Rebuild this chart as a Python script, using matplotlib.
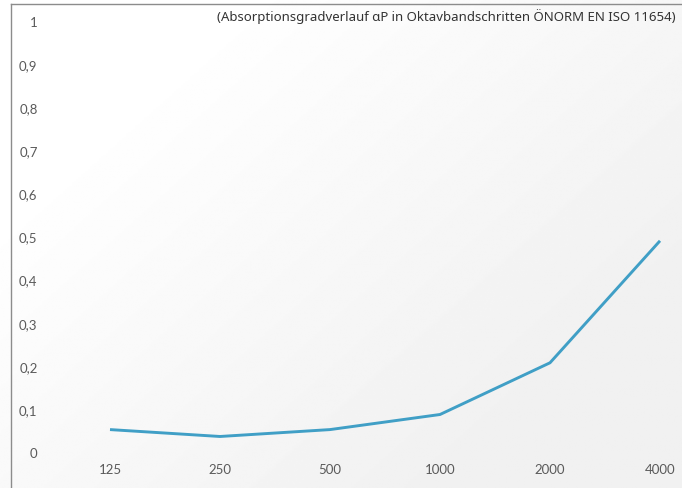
import numpy as np
import matplotlib.pyplot as plt
from matplotlib.lines import Line2D

# octave band centre frequencies (Hz) and practical absorption coefficient
frequencies = ['125', '250', '500', '1000', '2000', '4000']
alpha_p = [0.052, 0.036, 0.052, 0.087, 0.207, 0.49]
y_ticks = [0, 0.1, 0.2, 0.3, 0.4, 0.5, 0.6, 0.7, 0.8, 0.9, 1]
y_labels = ['0', '0,1', '0,2', '0,3', '0,4', '0,5', '0,6', '0,7', '0,8', '0,9', '1']
title = '(Absorptionsgradverlauf \u03b1P in Oktavbandschritten \u00d6NORM EN ISO 11654)'

W, H, DPI = 682, 489, 100
fig = plt.figure(figsize=(W / DPI, H / DPI), dpi=DPI)

# soft white -> grey background, lighter in the top left corner
bg = fig.add_axes([0, 0, 1, 1], zorder=0)
gx, gy = np.meshgrid(np.linspace(0, 1, 300), np.linspace(0, 1, 300))
t = np.clip((gx * 0.75 + gy * 0.6 - 0.25) / 0.8, 0, 1)
shade = 1.0 - 0.055 * t
bg.imshow(shade, cmap='gray', vmin=0, vmax=1, extent=[0, 1, 0, 1],
          aspect='auto', interpolation='bilinear')
bg.set_axis_off()

ax = fig.add_axes([0, 0, 1, 1], zorder=1)
ax.patch.set_alpha(0)
x = np.arange(len(frequencies))
ax.plot(x, alpha_p, color='#409fc6', lw=2.1, solid_joinstyle='round',
        solid_capstyle='butt')

ax.set_xlim(-1, 5.2)
ax.set_ylim(-36 / 431, (H - 36) / 431)
for s in ax.spines.values():
    s.set_visible(False)

ax.set_xticks(x)
ax.set_xticklabels(frequencies)
ax.set_yticks(y_ticks)
ax.set_yticklabels(y_labels)
ax.tick_params(axis='both', length=0, labelsize=9.5, labelcolor='#5a5a5a')
ax.tick_params(axis='y', pad=-27)
ax.tick_params(axis='x', pad=-18)
for lbl in ax.get_xticklabels() + ax.get_yticklabels():
    lbl.set_family(['Lato', 'DejaVu Sans'])

# left and top frame lines
fig.add_artist(Line2D([10.5 / W, 10.5 / W], [0, 1 - 5 / H], color='#8c8c8c', lw=1.0))
fig.add_artist(Line2D([10.5 / W, 1], [1 - 5 / H, 1 - 5 / H], color='#8c8c8c', lw=1.0))

fig.text(676 / W, 1 - 17 / H, title, ha='right', va='center', fontsize=9.5,
         color='#333333', family=['Noto Sans', 'DejaVu Sans'])

fig.savefig('out.png', dpi=DPI)
